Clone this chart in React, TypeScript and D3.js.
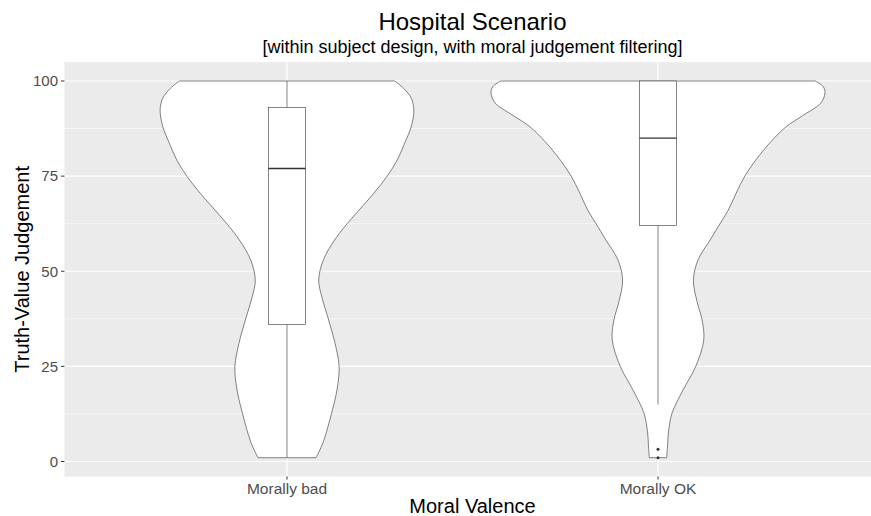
import { useMemo } from "react";
import * as d3 from "d3";

const WIDTH = 871;
const HEIGHT = 516;
const FONT = "'Liberation Sans', Arial, sans-serif";

const categories = ["Morally bad", "Morally OK"];

// violin outline: value -> relative density (1 = widest violin)
const badValues = [1, 5, 12.7, 19, 25, 31, 37.7, 43, 47.7, 53, 58.2, 61.7, 66, 70.5, 75, 79.2, 84, 88, 92.4, 95.5, 98, 100];
const badDensity = [0.174, 0.216, 0.267, 0.3, 0.312, 0.288, 0.246, 0.21, 0.19, 0.218, 0.285, 0.345, 0.43, 0.52, 0.6, 0.66, 0.708, 0.744, 0.76, 0.744, 0.7, 0.645];

const okValues = [1, 4, 7.5, 12.7, 18.8, 24.9, 31.9, 37.2, 42, 47.7, 53, 58.2, 61.7, 66, 70.5, 75, 79.2, 84, 88, 91, 94.2, 96.8, 98.5, 100];
const okDensity = [0.052, 0.057, 0.062, 0.084, 0.15, 0.225, 0.274, 0.264, 0.234, 0.212, 0.24, 0.312, 0.36, 0.42, 0.468, 0.52, 0.585, 0.675, 0.768, 0.87, 0.975, 1.0, 0.99, 0.942];

// boxplot stats: [min whisker, q1, median, q3, max whisker]
const badBox = [1, 36, 77, 93, 100];
const okBox = [15, 62, 85, 100, 100];
const okOutliers = [1, 3.2];

const yTicks = [0, 25, 50, 75, 100];
const yMinorTicks = [12.5, 37.5, 62.5, 87.5];

export default function App() {
  const x = useMemo(() => d3.scaleLinear().domain([0.4, 2.6]).range([64.4, 880.6]), []);
  const y = useMemo(() => d3.scaleLinear().domain([0, 100]).range([461.5, 81]), []);
  const unit = x(2) - x(1);
  const halfW = d3.scaleLinear().domain([0, 1]).range([0, 0.45 * unit]);

  const panelTop = y(104.95);
  const panelBottom = y(-3.95);
  const panelLeft = x(0.4);
  const panelRight = x(2.6);

  const violins = [
    { vals: badValues, dens: badDensity, box: badBox, outliers: [] as number[] },
    { vals: okValues, dens: okDensity, box: okBox, outliers: okOutliers },
  ];

  const stroke = "#333333";

  return (
    <svg width={WIDTH} height={HEIGHT} style={{ position: "absolute", left: 0, top: 0, background: "#fff" }} fontFamily={FONT}>
      <rect x={panelLeft} y={panelTop} width={panelRight - panelLeft} height={panelBottom - panelTop} fill="#EBEBEB" />
      {yMinorTicks.map((t) => (
        <line key={"m" + t} x1={panelLeft} x2={panelRight} y1={y(t)} y2={y(t)} stroke="#fff" strokeWidth={0.55} />
      ))}
      {yTicks.map((t) => (
        <line key={"g" + t} x1={panelLeft} x2={panelRight} y1={y(t)} y2={y(t)} stroke="#fff" strokeWidth={1.1} />
      ))}
      {categories.map((c, i) => (
        <line key={"v" + c} x1={x(i + 1)} x2={x(i + 1)} y1={panelTop} y2={panelBottom} stroke="#fff" strokeWidth={1.1} />
      ))}

      {violins.map((v, i) => {
        const cx = x(i + 1);
        const pts = v.vals.map((val, k) => ({ val, d: v.dens[k] }));
        const area = d3
          .area<{ val: number; d: number }>()
          .y((p) => y(p.val))
          .x0((p) => cx - halfW(p.d))
          .x1((p) => cx + halfW(p.d))
          .curve(d3.curveCatmullRom.alpha(0.5));
        const [lo, q1, med, q3, hi] = v.box;
        const bw = 0.05 * unit;
        return (
          <g key={"vio" + i}>
            <path d={area(pts) ?? ""} fill="#fff" stroke={stroke} strokeWidth={0.6} />
            <line x1={cx} x2={cx} y1={y(q3)} y2={y(hi)} stroke={stroke} strokeWidth={0.6} />
            <line x1={cx} x2={cx} y1={y(q1)} y2={y(lo)} stroke={stroke} strokeWidth={0.6} />
            <rect x={cx - bw} y={y(q3)} width={2 * bw} height={y(q1) - y(q3)} fill="#fff" stroke={stroke} strokeWidth={0.6} />
            <line x1={cx - bw} x2={cx + bw} y1={y(med)} y2={y(med)} stroke={stroke} strokeWidth={1.3} />
            {v.outliers.map((o, k) => (
              <circle key={k} cx={cx} cy={y(o)} r={1.5} fill={stroke} />
            ))}
          </g>
        );
      })}

      {yTicks.map((t) => (
        <g key={"yt" + t}>
          <line x1={61} x2={panelLeft} y1={y(t)} y2={y(t)} stroke={stroke} strokeWidth={1} />
          <text x={58} y={y(t)} dy="0.35em" textAnchor="end" fontSize={15} fill="#4D4D4D">
            {t}
          </text>
        </g>
      ))}
      {categories.map((c, i) => (
        <g key={"xt" + c}>
          <line x1={x(i + 1)} x2={x(i + 1)} y1={panelBottom} y2={panelBottom + 3} stroke={stroke} strokeWidth={1} />
          <text x={x(i + 1)} y={494} textAnchor="middle" fontSize={15.5} fill="#4D4D4D">
            {c}
          </text>
        </g>
      ))}

      <text x={(panelLeft + panelRight) / 2} y={30} textAnchor="middle" fontSize={24} fill="#000">
        Hospital Scenario
      </text>
      <text x={(panelLeft + panelRight) / 2} y={53} textAnchor="middle" fontSize={18} fill="#000">
        [within subject design, with moral judgement filtering]
      </text>
      <text x={(panelLeft + panelRight) / 2} y={513} textAnchor="middle" fontSize={20} fill="#000">
        Moral Valence
      </text>
      <text
        transform={`translate(29, ${(panelTop + panelBottom) / 2}) rotate(-90)`}
        textAnchor="middle"
        fontSize={20}
        fill="#000"
      >
        Truth-Value Judgement
      </text>
    </svg>
  );
}
